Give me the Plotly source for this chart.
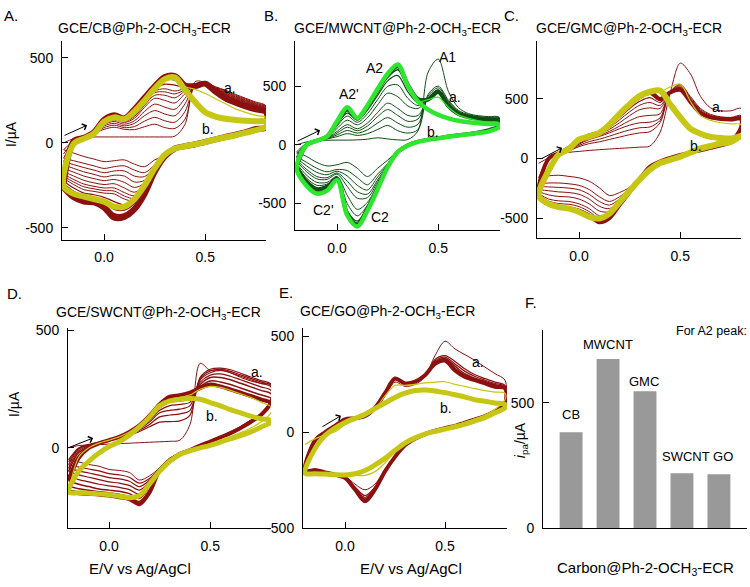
import plotly.graph_objects as go

W, H = 750, 587

# ---------------- potential grid (V vs Ag/AgCl) ----------------
E_GRID = [-0.2, -0.15, -0.1, -0.05, 0.0, 0.05, 0.1, 0.15, 0.2, 0.25, 0.3,
          0.35, 0.4, 0.45, 0.5, 0.55, 0.6, 0.65, 0.7, 0.75, 0.8]

# ---------------- Panel A : GCE/CB (current in uA) ----------------
# *_FWD: anodic sweep on E_GRID ascending; *_REV: cathodic sweep on E_GRID descending
A_C1_FWD = [0, 25, 33, 35, 35, 35, 35, 35, 35, 35, 35, 40, 110, 360, 355, 330, 310, 285, 262, 240, 218]
A_C1_REV = [95, 82, 63, 48, 35, 21, 6, -8, -20, -40, -75, -100, -140, -125, -100, -105, -110, -95, -80, -60, -40]
A_C2_FWD = [-40, 10, 30, 55, 80, 92, 80, 78, 95, 110, 90, 85, 140, 340, 352, 328, 305, 280, 257, 235, 214]
A_C2_REV = [92, 82, 63, 48, 35, 21, 6, -8, -20, -40, -85, -130, -175, -160, -135, -140, -150, -135, -120, -105, -90]
A_C3_FWD = [-65, 9, 30, 56, 90, 104, 90, 96, 128, 150, 130, 122, 185, 342, 350, 325, 300, 275, 252, 230, 210]
A_C3_REV = [92, 82, 63, 48, 35, 21, 6, -8, -20, -39, -82, -140, -198, -195, -165, -165, -175, -160, -145, -128, -110]
A_C4_FWD = [-90, 8, 30, 58, 100, 115, 100, 115, 160, 190, 170, 160, 230, 345, 350, 322, 296, 270, 248, 226, 206]
A_C4_REV = [92, 82, 63, 48, 35, 21, 6, -8, -20, -38, -80, -150, -220, -230, -195, -190, -200, -185, -170, -150, -130]
A_C5_FWD = [-110, 8, 30, 59, 108, 126, 110, 130, 185, 228, 210, 198, 262, 342, 350, 320, 292, 266, 244, 222, 203]
A_C5_REV = [92, 82, 63, 48, 35, 21, 6, -8, -20, -37, -78, -150, -236, -262, -232, -215, -222, -210, -195, -172, -150]
A_C6_FWD = [-130, 8, 30, 60, 115, 135, 120, 145, 210, 262, 250, 235, 290, 340, 350, 318, 288, 262, 240, 219, 200]
A_C6_REV = [92, 82, 63, 48, 35, 21, 6, -8, -20, -36, -75, -150, -250, -290, -265, -240, -245, -235, -220, -195, -170]
A_C7_FWD = [-145, 8, 30, 61, 119, 141, 125, 155, 222, 280, 280, 265, 305, 338, 350, 316, 284, 258, 236, 216, 197]
A_C7_REV = [92, 82, 63, 48, 35, 21, 6, -8, -20, -35, -73, -148, -255, -310, -292, -265, -265, -255, -242, -215, -185]
A_C8_FWD = [-158, 8, 30, 62, 122, 146, 129, 163, 232, 295, 300, 288, 312, 336, 350, 314, 281, 255, 233, 213, 195]
A_C8_REV = [92, 82, 63, 48, 35, 21, 6, -8, -20, -35, -72, -147, -258, -326, -312, -283, -280, -270, -258, -230, -198]
A_C9_FWD = [-170, 8, 30, 62, 125, 150, 133, 170, 240, 305, 318, 305, 320, 335, 350, 312, 278, 252, 230, 210, 193]
A_C9_REV = [92, 82, 63, 48, 35, 21, 6, -8, -20, -34, -70, -145, -260, -340, -330, -300, -295, -285, -275, -245, -210]
A_C11_FWD = [-192, 9, 30, 62, 129, 155, 137, 180, 248, 317, 345, 340, 325, 334, 350, 310, 274, 248, 226, 206, 190]
A_C11_REV = [92, 82, 63, 48, 35, 21, 6, -8, -19, -34, -67, -140, -258, -350, -365, -345, -320, -305, -295, -265, -225]
A_C13_FWD = [-210, 10, 30, 63, 132, 158, 140, 188, 255, 325, 370, 370, 330, 332, 350, 308, 270, 244, 222, 203, 187]
A_C13_REV = [92, 82, 63, 48, 35, 21, 6, -8, -19, -33, -65, -135, -255, -355, -395, -390, -345, -325, -315, -285, -240]
A_C16_FWD = [-225, 10, 30, 63, 134, 160, 142, 192, 260, 328, 380, 382, 334, 334, 349, 305, 266, 240, 218, 200, 184]
A_C16_REV = [91, 82, 63, 48, 35, 21, 6, -8, -19, -33, -72, -152, -278, -372, -418, -418, -362, -338, -330, -302, -250]
A_LATE_FWD = [-240, 10, 30, 63, 136, 163, 144, 197, 265, 332, 388, 393, 338, 335, 348, 302, 262, 236, 215, 197, 182]
A_LATE_REV = [90, 82, 63, 48, 35, 21, 6, -8, -19, -33, -80, -170, -300, -390, -435, -440, -380, -350, -345, -320, -262]
A_Y1_FWD = [-262, 0, 28, 58, 128, 155, 140, 188, 255, 325, 380, 390, 330, 315, 290, 260, 230, 200, 180, 162, 150]
A_Y1_REV = [95, 78, 62, 46, 34, 20, 5, -8, -20, -33, -68, -150, -260, -345, -385, -385, -350, -330, -320, -300, -255]
A_Y_FWD = [-253, -5, 25, 55, 125, 150, 140, 185, 250, 320, 375, 385, 310, 240, 180, 155, 142, 135, 130, 127, 125]
A_Y_REV = [95, 75, 60, 45, 33, 20, 5, -8, -20, -33, -70, -150, -250, -330, -375, -375, -345, -330, -315, -300, -253]

# ---------------- Panel B : GCE/MWCNT ----------------
B_C1_FWD = [0, 25, 39, 39, 40, 40, 42, 48, 60, 50, 42, 45, 120, 620, 730, 455, 316, 265, 248, 240, 236]
B_C1_REV = [150, 120, 100, 90, 80, 68, 55, 42, 25, 0, -50, -130, -200, -270, -200, -150, -170, -180, -150, -100, -60]
B_C2_FWD = [-60, 15, 39, 50, 70, 95, 80, 95, 130, 165, 120, 100, 130, 430, 500, 380, 292, 258, 240, 233, 230]
B_C2_REV = [155, 122, 102, 90, 80, 68, 55, 42, 25, -2, -60, -160, -250, -340, -280, -220, -210, -230, -200, -150, -100]
B_C3_FWD = [-80, 12, 38, 52, 85, 122, 100, 128, 185, 232, 185, 150, 175, 415, 485, 370, 285, 252, 234, 226, 222]
B_C3_REV = [155, 122, 102, 90, 80, 68, 55, 42, 25, -2, -60, -168, -275, -385, -345, -265, -225, -255, -235, -180, -115]
B_C4_FWD = [-100, 10, 38, 55, 100, 150, 120, 160, 240, 300, 250, 200, 220, 400, 470, 360, 280, 250, 232, 225, 222]
B_C4_REV = [155, 122, 102, 90, 80, 68, 55, 42, 25, -2, -60, -175, -300, -420, -400, -310, -240, -280, -270, -210, -130]
B_C5_FWD = [-112, 8, 38, 57, 115, 172, 137, 185, 275, 355, 310, 250, 250, 395, 465, 352, 276, 247, 230, 223, 219]
B_C5_REV = [156, 122, 102, 90, 80, 68, 55, 42, 25, -2, -60, -178, -318, -450, -455, -355, -250, -295, -290, -230, -142]
B_C7_FWD = [-130, 5, 37, 60, 140, 210, 170, 230, 340, 440, 410, 330, 310, 390, 460, 340, 270, 242, 228, 220, 216]
B_C7_REV = [158, 123, 103, 91, 81, 69, 56, 43, 26, -2, -60, -180, -340, -490, -550, -430, -270, -320, -320, -260, -160]
B_C9_FWD = [-148, 3, 36, 63, 160, 245, 192, 265, 385, 498, 510, 395, 335, 392, 457, 337, 267, 240, 226, 218, 214]
B_C9_REV = [158, 124, 104, 91, 81, 69, 56, 43, 26, -3, -60, -183, -352, -515, -605, -500, -278, -335, -345, -285, -172]
B_C11_FWD = [-160, 2, 36, 65, 175, 270, 210, 295, 420, 545, 590, 450, 360, 395, 455, 335, 265, 238, 225, 217, 212]
B_C11_REV = [158, 124, 104, 91, 81, 69, 56, 43, 26, -3, -60, -185, -360, -530, -650, -560, -285, -345, -365, -300, -180]
B_C14_FWD = [-172, 1, 35, 68, 186, 290, 220, 312, 447, 575, 640, 485, 375, 390, 452, 332, 262, 236, 224, 216, 210]
B_C14_REV = [159, 125, 105, 92, 82, 70, 57, 44, 27, -3, -60, -185, -366, -540, -670, -580, -288, -355, -378, -312, -186]
B_LATE_FWD = [-180, 0, 35, 70, 195, 300, 225, 325, 465, 595, 670, 510, 390, 386, 450, 330, 262, 235, 222, 214, 206]
B_LATE_REV = [160, 125, 105, 92, 82, 70, 57, 44, 27, -3, -60, -185, -370, -545, -680, -590, -290, -360, -385, -320, -190]
B_G1_FWD = [-190, 0, 36, 70, 200, 315, 228, 335, 475, 605, 685, 500, 370, 385, 405, 320, 255, 225, 205, 195, 188]
B_G1_REV = [150, 118, 100, 90, 80, 68, 55, 42, 25, -4, -60, -190, -380, -555, -690, -600, -300, -385, -410, -340, -200]
B_G_FWD = [-200, 0, 35, 70, 200, 320, 228, 335, 475, 605, 685, 500, 370, 300, 255, 225, 205, 192, 183, 177, 172]
B_G_REV = [150, 115, 100, 90, 80, 68, 55, 42, 25, -5, -60, -190, -380, -560, -695, -600, -300, -390, -415, -350, -200]

# ---------------- Panel C : GCE/GMC ----------------
C_C1_FWD = [-40, 5, 35, 52, 60, 68, 74, 80, 85, 90, 96, 105, 220, 550, 800, 710, 520, 425, 400, 400, 420]
C_C1_REV = [260, 140, 110, 90, 70, 50, 30, 5, -25, -70, -150, -240, -285, -310, -245, -190, -162, -150, -140, -145, -160]
C_C2_FWD = [-160, 0, 38, 65, 100, 125, 140, 160, 180, 200, 215, 225, 300, 560, 620, 520, 420, 370, 350, 345, 360]
C_C2_REV = [255, 140, 110, 90, 70, 50, 30, 5, -25, -70, -155, -255, -320, -360, -320, -260, -225, -212, -205, -205, -210]
C_C3_FWD = [-185, 0, 38, 68, 110, 142, 162, 188, 215, 240, 258, 265, 320, 560, 610, 510, 410, 362, 345, 340, 352]
C_C3_REV = [255, 140, 110, 90, 70, 50, 30, 5, -25, -70, -158, -260, -338, -390, -360, -300, -262, -248, -242, -238, -235]
C_C4_FWD = [-210, 0, 38, 70, 120, 160, 185, 215, 250, 280, 300, 305, 340, 560, 600, 500, 400, 355, 340, 335, 345]
C_C4_REV = [255, 140, 110, 90, 70, 50, 30, 5, -25, -70, -160, -265, -355, -420, -400, -340, -300, -285, -280, -270, -260]
C_C5_FWD = [-228, 0, 39, 74, 128, 168, 193, 228, 272, 318, 352, 362, 375, 560, 595, 495, 395, 352, 338, 333, 343]
C_C5_REV = [255, 140, 110, 90, 70, 50, 30, 5, -25, -70, -162, -270, -364, -445, -440, -380, -340, -322, -318, -305, -278]
C_C7_FWD = [-260, 0, 40, 80, 140, 180, 205, 245, 300, 360, 410, 425, 420, 560, 590, 490, 390, 350, 335, 330, 340]
C_C7_REV = [255, 140, 110, 90, 70, 50, 30, 5, -25, -70, -165, -275, -375, -470, -480, -420, -380, -360, -355, -340, -295]
C_C9_FWD = [-280, 0, 41, 83, 146, 186, 211, 258, 325, 392, 448, 470, 445, 558, 585, 485, 388, 348, 333, 329, 337]
C_C9_REV = [256, 140, 110, 90, 70, 50, 30, 5, -25, -70, -167, -277, -380, -482, -502, -445, -403, -383, -378, -358, -303]
C_C11_FWD = [-295, 0, 42, 85, 150, 190, 215, 270, 345, 420, 480, 510, 470, 555, 580, 480, 385, 345, 332, 328, 335]
C_C11_REV = [258, 140, 110, 90, 70, 50, 30, 5, -25, -70, -168, -278, -385, -490, -520, -465, -425, -405, -400, -375, -310]
C_C14_FWD = [-305, 0, 43, 88, 153, 193, 218, 278, 358, 437, 502, 538, 485, 555, 578, 478, 382, 345, 332, 328, 333]
C_C14_REV = [259, 140, 110, 90, 70, 50, 30, 5, -25, -70, -169, -279, -388, -496, -530, -474, -434, -414, -406, -381, -313]
C_LATE_FWD = [-315, 0, 44, 90, 155, 195, 220, 285, 370, 450, 520, 560, 500, 555, 575, 475, 380, 345, 332, 328, 332]
C_LATE_REV = [260, 140, 110, 90, 70, 50, 30, 5, -25, -70, -170, -280, -390, -500, -535, -480, -440, -420, -410, -385, -315]
C_Y1_FWD = [-310, -60, 40, 88, 160, 200, 225, 295, 385, 470, 540, 580, 560, 600, 625, 480, 360, 320, 300, 290, 285]
C_Y1_REV = [205, 150, 128, 107, 87, 52, 18, -9, -36, -90, -172, -268, -362, -458, -500, -487, -446, -418, -405, -378, -310]
C_Y_FWD = [-311, -100, 35, 80, 160, 185, 215, 285, 375, 455, 525, 560, 570, 455, 345, 250, 208, 182, 172, 168, 190]
C_Y_REV = [190, 140, 126, 105, 85, 50, 16, -11, -38, -93, -175, -270, -366, -462, -503, -489, -448, -420, -407, -380, -311]

# ---------------- Panel D : GCE/SWCNT ----------------
D_C1_FWD = [0, 10, 12, 14, 16, 18, 20, 22, 24, 26, 28, 33, 100, 360, 330, 335, 320, 300, 285, 275, 270]
D_C1_REV = [205, 144, 117, 89, 68, 47, 26, 10, -8, -22, -43, -85, -119, -137, -105, -96, -92, -78, -71, -60, -50]
D_C2_FWD = [-50, 0, 15, 25, 33, 42, 55, 70, 90, 110, 112, 115, 140, 300, 335, 340, 333, 318, 302, 287, 272]
D_C2_REV = [205, 145, 118, 90, 68, 47, 26, 10, -8, -22, -45, -88, -130, -150, -125, -115, -110, -98, -90, -82, -72]
D_C3_FWD = [-60, -2, 12, 23, 33, 44, 58, 75, 100, 132, 140, 145, 160, 295, 328, 335, 326, 311, 296, 281, 266]
D_C3_REV = [203, 144, 117, 89, 67, 46, 26, 10, -8, -22, -46, -90, -138, -165, -142, -132, -127, -116, -107, -98, -86]
D_C4_FWD = [-72, -5, 10, 22, 33, 45, 60, 80, 110, 150, 160, 165, 180, 290, 320, 330, 320, 305, 290, 275, 260]
D_C4_REV = [200, 143, 116, 89, 67, 46, 26, 10, -8, -22, -48, -92, -145, -180, -160, -150, -145, -135, -125, -115, -100]
D_C6_FWD = [-86, -12, 8, 21, 33, 45, 61, 84, 118, 160, 180, 185, 195, 280, 310, 315, 305, 290, 275, 260, 245]
D_C6_REV = [198, 142, 115, 88, 66, 45, 25, 10, -8, -22, -50, -92, -155, -198, -178, -168, -162, -155, -145, -135, -120]
D_C8_FWD = [-100, -20, 5, 20, 33, 46, 62, 88, 125, 170, 195, 200, 210, 270, 300, 300, 290, 275, 260, 245, 230]
D_C8_REV = [195, 140, 114, 88, 66, 45, 25, 10, -8, -22, -52, -92, -165, -215, -195, -185, -180, -175, -165, -155, -140]
D_C11_FWD = [-120, -32, 2, 19, 33, 47, 65, 92, 131, 178, 208, 212, 222, 262, 285, 281, 270, 255, 240, 226, 211]
D_C11_REV = [192, 140, 112, 86, 64, 45, 26, 10, -9, -24, -55, -94, -178, -228, -207, -198, -192, -187, -181, -174, -163]
D_LATE_FWD = [-140, -43, 0, 19, 33, 47, 68, 96, 137, 186, 218, 224, 235, 255, 270, 262, 249, 235, 221, 207, 193]
D_LATE_REV = [190, 140, 110, 85, 63, 45, 27, 10, -10, -25, -57, -95, -190, -240, -218, -210, -203, -199, -196, -193, -186]
D_Y1_FWD = [-186, -40, 0, 20, 33, 47, 68, 96, 135, 180, 205, 215, 225, 250, 262, 258, 245, 230, 215, 195, 175]
D_Y1_REV = [150, 110, 85, 65, 48, 32, 17, 5, -12, -28, -58, -99, -160, -210, -212, -206, -200, -197, -195, -192, -189]
D_Y_FWD = [-189, -99, -57, -22, 6, 26, 54, 89, 131, 179, 200, 207, 210, 207, 193, 179, 163, 149, 135, 124, 117]
D_Y_REV = [110, 88, 68, 52, 39, 25, 11, 0, -12, -28, -57, -99, -154, -203, -212, -206, -200, -196, -193, -191, -189]

# ---------------- Panel E : GCE/GO ----------------
E_C1_FWD = [-150, -30, 5, 35, 68, 73, 82, 120, 190, 262, 240, 250, 290, 400, 475, 435, 405, 375, 340, 306, 272]
E_C1_REV = [160, 112, 87, 70, 52, 35, 22, 9, -9, -34, -68, -125, -195, -270, -300, -270, -230, -215, -205, -195, -200]
E_C2_FWD = [-200, -40, 2, 34, 68, 73, 84, 125, 198, 275, 250, 258, 295, 380, 400, 370, 330, 300, 280, 262, 245]
E_C2_REV = [155, 111, 86, 69, 51, 34, 22, 9, -9, -34, -68, -127, -200, -285, -330, -285, -235, -218, -207, -196, -202]
E_C3_FWD = [-203, -41, 1, 34, 68, 73, 84, 126, 200, 278, 252, 260, 296, 372, 392, 357, 318, 291, 272, 255, 240]
E_C3_REV = [153, 110, 85, 68, 51, 34, 22, 9, -9, -34, -68, -127, -201, -288, -340, -288, -236, -219, -208, -196, -203]
E_C5_FWD = [-205, -42, 1, 34, 68, 73, 85, 127, 202, 280, 253, 262, 297, 365, 385, 345, 305, 282, 265, 248, 235]
E_C5_REV = [152, 110, 85, 68, 51, 34, 22, 9, -9, -34, -68, -128, -202, -292, -348, -292, -236, -220, -208, -197, -203]
E_C7_FWD = [-204, -43, 0, 34, 68, 73, 85, 128, 203, 281, 254, 263, 298, 361, 380, 334, 297, 277, 260, 243, 232]
E_C7_REV = [151, 110, 85, 68, 51, 34, 22, 9, -9, -34, -68, -128, -203, -295, -354, -295, -237, -220, -208, -196, -204]
E_LATE_FWD = [-204, -43, 0, 34, 68, 73, 85, 128, 204, 281, 255, 264, 298, 357, 374, 323, 289, 272, 255, 238, 230]
E_LATE_REV = [150, 110, 85, 68, 51, 34, 22, 9, -9, -34, -68, -128, -204, -298, -360, -298, -238, -221, -209, -196, -204]
E_Y1_FWD = [-63, -34, -14, 3, 40, 65, 83, 122, 190, 245, 245, 250, 258, 262, 264, 250, 240, 228, 218, 210, 204]
E_Y1_REV = [170, 120, 90, 70, 52, 35, 20, 8, -9, -30, -58, -100, -160, -205, -225, -225, -222, -220, -218, -215, -213]
E_Y_FWD = [-213, -85, -17, 22, 51, 73, 94, 124, 153, 182, 204, 218, 221, 216, 207, 196, 184, 170, 162, 153, 145]
E_Y_REV = [128, 102, 77, 60, 43, 29, 17, 5, -9, -29, -56, -94, -136, -170, -199, -216, -223, -221, -218, -216, -213]

# ---------------- Panel F : bar chart ----------------
F_CATEGORIES = ["CB", "MWCNT", "GMC", "SWCNT", "GO"]
F_VALUES = [383, 676, 547, 219, 215]

# ---------------- styles ----------------
DARK_RED = "#8b1010"
YELLOW = "#c6c614"
DARK_GREEN = "#0e4d12"
BRIGHT_GREEN = "#2ee62e"
BAR_GRAY = "#999999"
FONT = "Liberation Sans, Arial, sans-serif"

fig = go.Figure()


def add_cycle(ax, fwd, rev, color, width):
    assert len(fwd) == len(E_GRID) and len(rev) == len(E_GRID)
    fig.add_trace(go.Scatter(
        x=E_GRID + E_GRID[::-1], y=fwd + rev, mode="lines",
        line=dict(color=color, width=width, shape="spline", smoothing=0.9),
        xaxis="x" + ax, yaxis="y" + ax, hoverinfo="skip", showlegend=False))


# Panel A
for f, r, w in [(A_C1_FWD, A_C1_REV, 1), (A_C2_FWD, A_C2_REV, 1), (A_C3_FWD, A_C3_REV, 1),
                (A_C4_FWD, A_C4_REV, 1), (A_C5_FWD, A_C5_REV, 1), (A_C6_FWD, A_C6_REV, 1),
                (A_C7_FWD, A_C7_REV, 1), (A_C8_FWD, A_C8_REV, 1), (A_C9_FWD, A_C9_REV, 1),
                (A_C11_FWD, A_C11_REV, 1.2), (A_C13_FWD, A_C13_REV, 1.5), (A_C16_FWD, A_C16_REV, 2),
                (A_LATE_FWD, A_LATE_REV, 6)]:
    add_cycle("", f, r, DARK_RED, w)
add_cycle("", A_Y_FWD, A_Y_REV, YELLOW, 6)
add_cycle("", A_Y1_FWD, A_Y1_REV, YELLOW, 1.2)

# Panel B
for f, r, w in [(B_C1_FWD, B_C1_REV, 1), (B_C2_FWD, B_C2_REV, 1), (B_C3_FWD, B_C3_REV, 1),
                (B_C4_FWD, B_C4_REV, 1), (B_C5_FWD, B_C5_REV, 1), (B_C7_FWD, B_C7_REV, 1),
                (B_C9_FWD, B_C9_REV, 1), (B_C11_FWD, B_C11_REV, 1.2), (B_C14_FWD, B_C14_REV, 1.5),
                (B_LATE_FWD, B_LATE_REV, 4)]:
    add_cycle("2", f, r, DARK_GREEN, w)
add_cycle("2", B_G_FWD, B_G_REV, BRIGHT_GREEN, 4.5)
add_cycle("2", B_G1_FWD, B_G1_REV, BRIGHT_GREEN, 1.2)

# Panel C
for f, r, w in [(C_C1_FWD, C_C1_REV, 1), (C_C2_FWD, C_C2_REV, 1), (C_C3_FWD, C_C3_REV, 1),
                (C_C4_FWD, C_C4_REV, 1), (C_C5_FWD, C_C5_REV, 1), (C_C7_FWD, C_C7_REV, 1),
                (C_C9_FWD, C_C9_REV, 1), (C_C11_FWD, C_C11_REV, 1.2), (C_C14_FWD, C_C14_REV, 1.5),
                (C_LATE_FWD, C_LATE_REV, 4)]:
    add_cycle("3", f, r, DARK_RED, w)
add_cycle("3", C_Y_FWD, C_Y_REV, YELLOW, 6)
add_cycle("3", C_Y1_FWD, C_Y1_REV, YELLOW, 1.2)

# Panel D
for f, r, w in [(D_C1_FWD, D_C1_REV, 1), (D_C2_FWD, D_C2_REV, 1.2), (D_C3_FWD, D_C3_REV, 1.2),
                (D_C4_FWD, D_C4_REV, 1.2), (D_C6_FWD, D_C6_REV, 1.2), (D_C8_FWD, D_C8_REV, 1.5),
                (D_C11_FWD, D_C11_REV, 1.5), (D_LATE_FWD, D_LATE_REV, 4)]:
    add_cycle("4", f, r, DARK_RED, w)
add_cycle("4", D_Y_FWD, D_Y_REV, YELLOW, 5)
add_cycle("4", D_Y1_FWD, D_Y1_REV, YELLOW, 1.2)

# Panel E
for f, r, w in [(E_C1_FWD, E_C1_REV, 1), (E_C2_FWD, E_C2_REV, 1.2), (E_C3_FWD, E_C3_REV, 1.2),
                (E_C5_FWD, E_C5_REV, 1.5), (E_C7_FWD, E_C7_REV, 1.5), (E_LATE_FWD, E_LATE_REV, 4)]:
    add_cycle("5", f, r, DARK_RED, w)
add_cycle("5", E_Y_FWD, E_Y_REV, YELLOW, 5)
add_cycle("5", E_Y1_FWD, E_Y1_REV, YELLOW, 1.2)

# Panel F
fig.add_trace(go.Bar(x=F_CATEGORIES, y=F_VALUES, marker=dict(color=BAR_GRAY, line=dict(width=0)),
                     width=0.62, xaxis="x6", yaxis="y6", hoverinfo="skip", showlegend=False))


def dx(a, b):
    return [a / W, b / W]


def dy(top, bottom):
    return [1 - bottom / H, 1 - top / H]


tickfont = dict(family=FONT, size=14, color="black")


def xax(dom, rng, anchor, tickvals=(0, 0.5), ticktext=("0.0", "0.5")):
    return dict(domain=dom, range=rng, anchor=anchor, showline=True, linecolor="black", linewidth=1,
                ticks="inside", ticklen=6, tickcolor="black", tickvals=list(tickvals),
                ticktext=list(ticktext), showgrid=False, zeroline=False, tickfont=tickfont,
                ticklabelstandoff=5, fixedrange=True)


def yax(dom, rng, anchor, tickvals):
    return dict(domain=dom, range=rng, anchor=anchor, showline=True, linecolor="black", linewidth=1,
                ticks="inside", ticklen=6, tickcolor="black", tickvals=tickvals,
                ticktext=[str(v) for v in tickvals], showgrid=False, zeroline=False,
                tickfont=tickfont, ticklabelstandoff=5, fixedrange=True)


layout = dict(
    width=W, height=H, margin=dict(l=0, r=0, t=0, b=0),
    paper_bgcolor="white", plot_bgcolor="white", showlegend=False,
    font=dict(family=FONT, size=14, color="black"),
    xaxis=xax(dx(62, 266), [-0.208, 0.8], "y"),
    yaxis=yax(dy(37, 240), [-569, 598], "x", [-500, 0, 500]),
    xaxis2=xax(dx(295, 500), [-0.208, 0.805], "y2"),
    yaxis2=yax(dy(37, 230), [-725, 883], "x2", [-500, 0, 500]),
    xaxis3=xax(dx(537, 741), [-0.208, 0.8], "y3"),
    yaxis3=yax(dy(37, 238), [-664, 984], "x3", [-500, 0, 500]),
    xaxis4=xax(dx(68, 271), [-0.203, 0.8], "y4"),
    yaxis4=yax(dy(330, 535), [-342, 512], "x4", [0, 500]),
    xaxis5=xax(dx(303, 507), [-0.21, 0.81], "y5"),
    yaxis5=yax(dy(330, 535), [-500, 546], "x5", [-500, 0, 500]),
    xaxis6=dict(domain=dx(543, 747), range=[-0.76, 4.76], anchor="y6", type="category",
                showline=True, linecolor="black", linewidth=1, ticks="", showticklabels=False,
                showgrid=False, zeroline=False, fixedrange=True),
    yaxis6=yax(dy(332, 535), [0, 793], "x6", [0, 500]),
)
fig.update_layout(**layout)


def note(text, x, y, size=14, xanchor="center", angle=0):
    fig.add_annotation(text=text, x=x / W, y=1 - y / H, xref="paper", yref="paper",
                       showarrow=False, xanchor=xanchor, yanchor="middle", textangle=angle,
                       font=dict(family=FONT, size=size, color="black"))


# panel letters
note("A.", 2, 11, 15, "left")
note("B.", 262, 11, 15, "left")
note("C.", 502, 11, 15, "left")
note("D.", 5, 295, 15, "left")
note("E.", 277, 294, 15, "left")
note("F.", 523, 304, 15, "left")

# panel titles
note("GCE/CB@Ph-2-OCH<sub>3</sub>-ECR", 144, 25, 14)
note("GCE/MWCNT@Ph-2-OCH<sub>3</sub>-ECR", 397, 25, 14)
note("GCE/GMC@Ph-2-OCH<sub>3</sub>-ECR", 629, 25, 14)
note("GCE/SWCNT@Ph-2-OCH<sub>3</sub>-ECR", 158, 315, 14)
note("GCE/GO@Ph-2-OCH<sub>3</sub>-ECR", 387, 314, 14)

# axis titles
note("I/\u00b5A", 11, 132, 14, angle=-90)
note("I/\u00b5A", 14, 408, 14, angle=-90)
note("E/V vs Ag/AgCl", 140, 576, 15)
note("E/V vs Ag/AgCl", 411, 576, 15)
note("<i>i</i><sub>pa</sub>/\u00b5A", 521, 445, 14, angle=-90)
note("Carbon@Ph-2-OCH<sub>3</sub>-ECR", 645, 576, 15)

# in-plot labels
for t, x, y in [("a.", 230, 85), ("b.", 208, 127),
                ("A1", 447, 53), ("A2", 374, 64), ("A2'", 349, 91), ("a.", 455, 94), ("b.", 433, 130),
                ("C2'", 323, 210), ("C2", 380, 217),
                ("a.", 718, 104), ("b.", 696, 144),
                ("a.", 257, 375), ("b.", 212, 420),
                ("a.", 478, 365), ("b.", 446, 412)]:
    note(t, x, y, 14)

# bar labels
for t, x, y in [("CB", 571, 419), ("MWCNT", 608, 347), ("GMC", 644, 385),
                ("SWCNT GO", 697, 462)]:
    note(t, x, y, 13)
note("For A2 peak:", 749, 333, 12.5, "right")

# sweep-direction arrows (data coords of each panel)
for ax, (x0, y0, x1, y1) in [("", (-0.203, 40, -0.084, 104)), ("2", (-0.203, 25, -0.084, 125)),
                              ("3", (-0.193, -8, -0.084, 90)), ("4", (-0.203, 0, -0.079, 42)),
                              ("5", (-0.12, 25, -0.02, 87))]:
    fig.add_annotation(x=x1, y=y1, ax=x0, ay=y0, xref="x" + ax, yref="y" + ax,
                       axref="x" + ax, ayref="y" + ax, text="", showarrow=True,
                       arrowhead=4, arrowsize=1.3, arrowwidth=1, arrowcolor="black")

# remove the default page margin so the 750x587 figure fills the window exactly
fig.write_html("out.html", config={"displayModeBar": False, "staticPlot": True},
               post_script="document.body.style.margin='0';document.body.style.overflow='hidden';")
